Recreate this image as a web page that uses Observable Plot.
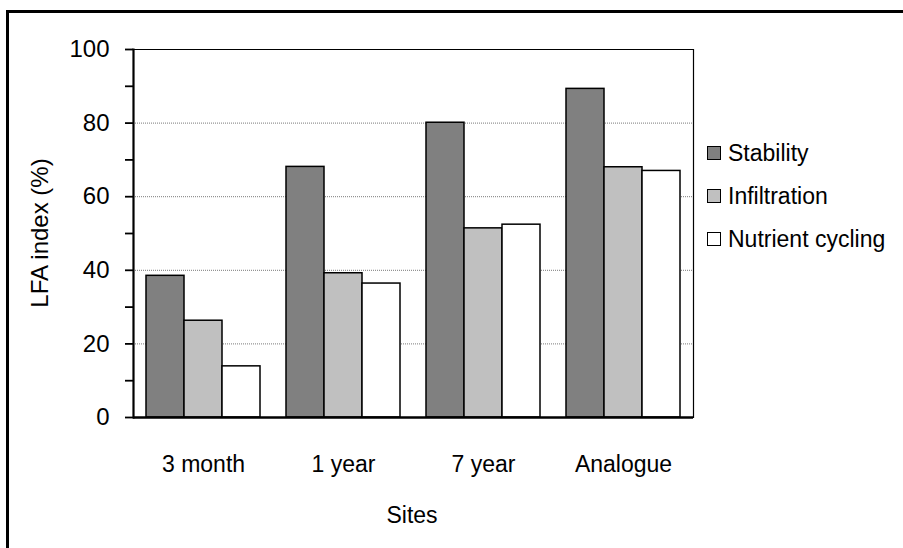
<!DOCTYPE html>
<html>
<head>
<meta charset="utf-8">
<script src="https://cdn.jsdelivr.net/npm/d3@7"></script>
<script src="https://cdn.jsdelivr.net/npm/@observablehq/plot@0.6"></script>
<style>
  html, body { margin: 0; padding: 0; background: #fff; }
  #wrap { position: relative; width: 903px; height: 548px; overflow: hidden; font-family: "Liberation Sans", Arial, sans-serif; }
  #outer { position: absolute; left: 6px; top: 10px; width: 1000px; height: 700px; border-top: 3px solid #000; border-left: 3px solid #000; pointer-events: none; }
  #legend { position: absolute; left: 707px; top: 0; }
  .item { position: absolute; left: 0; display: flex; align-items: center; white-space: nowrap; font-size: 23px; color: #000; }
  .sw { width: 12px; height: 12px; border: 1px solid #000; margin-right: 7px; }
  .title { position: absolute; color: #000; white-space: nowrap; }
</style>
</head>
<body>
<div id="wrap"><div id="outer"></div><div id="legend"></div>
<div class="title" id="xtitle" style="font-size:23px">Sites</div>
<div class="title" id="ytitle" style="font-size:24px">LFA index (%)</div></div>
<script>
const sites = ["3 month", "1 year", "7 year", "Analogue"];
const seriesNames = ["Stability", "Infiltration", "Nutrient cycling"];
const stability = [38.5, 68.1, 80.1, 89.3];
const infiltration = [26.3, 39.2, 51.4, 68.0];
const nutrient = [13.9, 36.4, 52.4, 67.0];
const yTicks = [0, 20, 40, 60, 80, 100];
const yMinorTicks = [10, 30, 50, 70, 90];
const gridValues = [20, 40, 60, 80];
const colors = ["#808080", "#c0c0c0", "#ffffff"];

const seriesValues = [stability, infiltration, nutrient];
const data = sites.flatMap((site, i) =>
  seriesNames.map((s, j) => ({site, series: s, value: seriesValues[j][i]}))
);

const chart = Plot.plot({
  width: 903,
  height: 548,
  marginLeft: 131,
  marginRight: 209,
  marginTop: 49,
  marginBottom: 131,
  style: {background: "transparent", fontFamily: "'Liberation Sans', Arial, sans-serif", color: "#000"},
  fx: {domain: sites, padding: 0},
  x: {domain: seriesNames, paddingInner: 0, paddingOuter: 0.34, axis: null},
  y: {domain: [0, 100]},
  color: {domain: seriesNames, range: colors},
  marks: [
    Plot.gridY(gridValues, {stroke: "#7a7a7a", strokeOpacity: 1, strokeDasharray: "1,1", strokeWidth: 1}),
    Plot.barY(data, {fx: "site", x: "series", y: "value", fill: "series", stroke: "#000", strokeWidth: 1.5}),
    Plot.ruleY([100], {stroke: "#000", strokeWidth: 1.2}),
    Plot.ruleY([0], {stroke: "#000", strokeWidth: 2.5}),
    Plot.frame({anchor: "left", facet: "super", stroke: "#000", strokeWidth: 2.2}),
    Plot.frame({anchor: "right", facet: "super", stroke: "#000", strokeWidth: 1.2}),
    Plot.axisY(yTicks, {tickSize: 8, tickPadding: 16, fontSize: 24, stroke: "#000", strokeWidth: 1.8, label: null}),
    Plot.axisY(yMinorTicks, {tickSize: 8, stroke: "#000", strokeWidth: 1.8, tickFormat: () => "", label: null}),
    Plot.axisFx({anchor: "bottom", tickSize: 0, tickPadding: 38, fontSize: 23, label: null})
  ]
});
document.getElementById("wrap").insertBefore(chart, document.getElementById("outer"));
chart.style.position = "absolute";
chart.style.left = "0";
chart.style.top = "0";

const legend = document.getElementById("legend");
const rowCenters = [153, 196, 239];
seriesNames.forEach((s, j) => {
  const item = document.createElement("div");
  item.className = "item";
  item.style.top = (rowCenters[j] - 14) + "px";
  item.style.height = "28px";
  const sw = document.createElement("div");
  sw.className = "sw";
  sw.style.background = colors[j];
  const t = document.createElement("span");
  t.textContent = s;
  item.appendChild(sw);
  item.appendChild(t);
  legend.appendChild(item);
});

const xt = document.getElementById("xtitle");
xt.style.left = "412px"; xt.style.top = "502px"; xt.style.transform = "translateX(-50%)";
const yt = document.getElementById("ytitle");
yt.style.left = "40px"; yt.style.top = "233px"; yt.style.transform = "translate(-50%,-50%) rotate(-90deg)";
</script>
</body>
</html>
